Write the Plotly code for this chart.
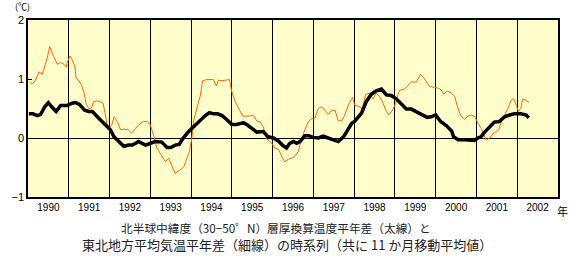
import plotly.graph_objects as go

# ---- data (decimal year, value in degC) ----
thin_t = [1990.04, 1990.10, 1990.18, 1990.27, 1990.35, 1990.43, 1990.47, 1990.53, 1990.58, 1990.63,
          1990.72, 1990.80, 1990.88, 1990.94, 1990.96, 1991.03, 1991.08, 1991.15, 1991.18, 1991.25,
          1991.31, 1991.37, 1991.43, 1991.49, 1991.56, 1991.61, 1991.72, 1991.84, 1991.90, 1991.94,
          1992.00, 1992.05, 1992.11, 1992.19, 1992.27, 1992.35, 1992.46, 1992.54, 1992.64, 1992.71,
          1992.83, 1992.93, 1993.00, 1993.08, 1993.16, 1993.28, 1993.37, 1993.45, 1993.50, 1993.61,
          1993.73, 1993.82, 1993.90, 1993.96, 1994.02, 1994.06, 1994.14, 1994.23, 1994.28, 1994.39,
          1994.55, 1994.62, 1994.67, 1994.76, 1994.84, 1994.94, 1995.00, 1995.08, 1995.19, 1995.27,
          1995.36, 1995.53, 1995.61, 1995.69, 1995.77, 1995.85, 1995.98, 1996.06, 1996.14, 1996.22,
          1996.29, 1996.39, 1996.51, 1996.63, 1996.69, 1996.79, 1996.88, 1996.96, 1997.04, 1997.12,
          1997.20, 1997.28, 1997.37, 1997.45, 1997.53, 1997.61, 1997.69, 1997.77, 1997.86, 1997.96,
          1998.01, 1998.13, 1998.20, 1998.28, 1998.38, 1998.46, 1998.54, 1998.63, 1998.71, 1998.79,
          1998.85, 1998.94, 1999.02, 1999.07, 1999.12, 1999.24, 1999.32, 1999.40, 1999.53, 1999.57,
          1999.62, 1999.69, 1999.79, 1999.85, 1999.98, 2000.08, 2000.14, 2000.20, 2000.28, 2000.39,
          2000.47, 2000.52, 2000.59, 2000.63, 2000.71, 2000.79, 2000.88, 2000.96, 2001.04, 2001.12,
          2001.18, 2001.24, 2001.33, 2001.41, 2001.50, 2001.55, 2001.61, 2001.69, 2001.77, 2001.85,
          2001.91, 2001.98, 2002.03, 2002.09, 2002.13, 2002.22, 2002.29]
thin_v = [0.95, 0.91, 0.98, 1.12, 1.08, 1.24, 1.35, 1.55, 1.46, 1.38,
          1.25, 1.28, 1.25, 1.20, 1.28, 1.39, 1.33, 1.21, 1.01, 0.97,
          0.90, 0.78, 0.57, 0.50, 0.51, 0.62, 0.63, 0.59, 0.39, 0.22,
          0.19, 0.21, 0.36, 0.28, 0.14, 0.15, 0.14, 0.08, 0.16, 0.22,
          0.28, 0.28, 0.22, 0.05, -0.17, -0.29, -0.40, -0.34, -0.43, -0.60,
          -0.54, -0.49, -0.34, -0.23, 0.00, 0.28, 0.50, 0.73, 0.97, 0.99,
          0.99, 0.88, 0.98, 0.97, 0.98, 0.99, 0.78, 0.62, 0.47, 0.37,
          0.37, 0.38, 0.29, 0.27, 0.19, -0.01, -0.09, -0.17, -0.19, -0.29,
          -0.40, -0.36, -0.33, -0.23, -0.06, 0.14, 0.28, 0.33, 0.34, 0.50,
          0.53, 0.47, 0.40, 0.47, 0.47, 0.29, 0.29, 0.39, 0.56, 0.69,
          0.56, 0.53, 0.49, 0.74, 0.76, 0.66, 0.76, 0.70, 0.59, 0.45,
          0.39, 0.47, 0.59, 0.73, 0.81, 0.83, 0.90, 0.95, 0.95, 1.01,
          1.08, 1.04, 0.93, 0.87, 0.86, 0.84, 0.81, 0.74, 0.80, 0.76,
          0.70, 0.56, 0.42, 0.36, 0.32, 0.37, 0.39, 0.36, 0.25, 0.16,
          0.05, -0.03, 0.00, 0.08, 0.11, 0.14, 0.28, 0.39, 0.50, 0.64,
          0.67, 0.55, 0.45, 0.50, 0.66, 0.64, 0.60]

thick_t = [1990.02, 1990.12, 1990.23, 1990.31, 1990.41, 1990.50, 1990.58, 1990.69, 1990.80, 1990.96,
           1991.08, 1991.17, 1991.26, 1991.39, 1991.49, 1991.58, 1991.70, 1991.86, 1992.02, 1992.11,
           1992.23, 1992.35, 1992.47, 1992.56, 1992.64, 1992.71, 1992.88, 1993.00, 1993.12, 1993.28,
           1993.41, 1993.50, 1993.61, 1993.71, 1993.80, 1993.94, 1994.06, 1994.23, 1994.35, 1994.45,
           1994.55, 1994.65, 1994.76, 1994.88, 1995.00, 1995.12, 1995.29, 1995.36, 1995.48, 1995.61,
           1995.77, 1995.89, 1996.02, 1996.14, 1996.24, 1996.34, 1996.42, 1996.51, 1996.59, 1996.67,
           1996.79, 1996.88, 1997.00, 1997.12, 1997.24, 1997.37, 1997.49, 1997.61, 1997.74, 1997.82,
           1997.94, 1998.01, 1998.18, 1998.30, 1998.42, 1998.54, 1998.67, 1998.79, 1998.91, 1999.04,
           1999.16, 1999.28, 1999.40, 1999.53, 1999.65, 1999.79, 1999.89, 2000.00, 2000.12, 2000.26,
           2000.39, 2000.44, 2000.55, 2000.71, 2000.83, 2000.95, 2001.03, 2001.11, 2001.20, 2001.32,
           2001.44, 2001.56, 2001.69, 2001.81, 2001.93, 2002.09, 2002.22, 2002.28]
thick_v = [0.41, 0.41, 0.38, 0.40, 0.53, 0.60, 0.53, 0.45, 0.55, 0.55,
           0.59, 0.60, 0.57, 0.47, 0.45, 0.45, 0.36, 0.25, 0.14, 0.02,
           -0.06, -0.14, -0.12, -0.12, -0.09, -0.06, -0.12, -0.09, -0.06, -0.07,
           -0.16, -0.16, -0.12, -0.11, -0.01, 0.11, 0.19, 0.31, 0.38, 0.43,
           0.41, 0.41, 0.38, 0.31, 0.23, 0.23, 0.26, 0.23, 0.16, 0.10,
           0.11, 0.02, 0.00, -0.05, -0.12, -0.17, -0.09, -0.06, -0.09, -0.06,
           0.04, 0.04, 0.01, 0.00, 0.03, 0.00, -0.02, -0.06, 0.02, 0.11,
           0.25, 0.28, 0.42, 0.62, 0.74, 0.80, 0.83, 0.73, 0.72, 0.66,
           0.57, 0.49, 0.49, 0.45, 0.40, 0.35, 0.36, 0.39, 0.28, 0.21,
           0.12, 0.02, -0.03, -0.03, -0.03, -0.04, 0.00, 0.02, 0.10, 0.19,
           0.27, 0.28, 0.36, 0.39, 0.41, 0.41, 0.39, 0.34]

years = list(range(1990, 2003))
year_labels = [str(y) for y in years]
y_ticks = [-1, 0, 1, 2]
y_labels = ["\u22121", "0", "1", "2"]

caption1 = "北半球中緯度（30−50゜N）層厚換算温度平年差（太線）と"
caption2 = "東北地方平均気温平年差（細線）の時系列（共に 11 か月移動平均値）"

# ---- figure ----
fig = go.Figure()
fig.add_trace(go.Scatter(x=thin_t, y=thin_v, mode="lines",
                         line=dict(color="#FF6600", width=1), hoverinfo="skip"))
fig.add_trace(go.Scatter(x=thick_t, y=thick_v, mode="lines",
                         line=dict(color="#000000", width=3.5), hoverinfo="skip"))

L, R, T, B = 28, 22, 20, 63
fig.update_layout(
    width=580, height=260,
    margin=dict(l=L, r=R, t=T, b=B, autoexpand=False),
    paper_bgcolor="white", plot_bgcolor="#FFFFCC",
    showlegend=False,
    font=dict(family="Liberation Sans, Arial, sans-serif", size=10, color="black"),
)
fig.update_xaxes(
    range=[1990, 2003], automargin=False,
    tickmode="array",
    tickvals=[y + 0.5 for y in years], ticktext=year_labels,
    ticks="", showgrid=False, zeroline=False,
    showline=True, mirror=True, linecolor="black", linewidth=1.5,
    tickfont=dict(size=10),
    minor=dict(tickmode="array", tickvals=list(range(1991, 2003)),
               showgrid=True, gridcolor="black", gridwidth=1, ticks=""),
)
fig.update_yaxes(
    range=[-1, 2], automargin=False,
    tickmode="array", tickvals=y_ticks, ticktext=y_labels,
    ticks="inside", ticklen=4, tickcolor="black",
    showgrid=False, zeroline=True, zerolinecolor="black", zerolinewidth=1,
    showline=True, mirror=True, linecolor="black", linewidth=1.5,
    tickfont=dict(size=11),
)

plot_w = 580 - L - R
fig.add_annotation(text="(℃)", xref="paper", yref="paper", x=(22 - L) / plot_w, y=1.0,
                   xanchor="center", yanchor="bottom", yshift=5, showarrow=False,
                   font=dict(size=9, family="Noto Sans CJK JP"))
fig.add_annotation(text="年", xref="paper", yref="paper", x=1.0, y=0,
                   xanchor="left", yanchor="top", xshift=-3, yshift=-4, showarrow=False,
                   font=dict(size=11, family="Noto Sans CJK JP"))
caption_text = ("\u3000\u3000\u3000<span style=\"font-size:11.7px\">" + caption1 +
                "</span><br>" + caption2)
fig.add_annotation(text=caption_text, xref="paper", yref="paper",
                   x=(80 - L) / plot_w, y=0, xanchor="left", yanchor="middle", align="left",
                   yshift=-(236 - 197), showarrow=False,
                   font=dict(size=13, family="Noto Sans CJK JP", color="#222222"))

fig.write_html("out.html", config={"displayModeBar": False},
               post_script="document.body.style.margin='0';document.body.style.padding='0';")
